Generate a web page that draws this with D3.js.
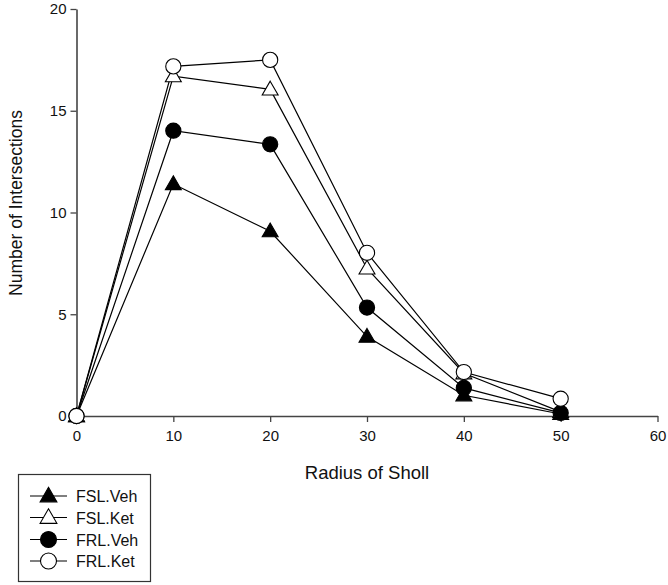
<!DOCTYPE html>
<html><head><meta charset="utf-8">
<script src="https://cdn.jsdelivr.net/npm/d3@7"></script>
<style>body{margin:0;background:#fff}text{font-family:Arial,"Liberation Sans",sans-serif;fill:#111}</style>
</head><body><svg id="c" width="668" height="585"></svg>
<script>
const radius = [0, 10, 20, 30, 40, 50];
const seriesNames = ["FSL.Veh", "FSL.Ket", "FRL.Veh", "FRL.Ket"];
const fslVeh = [0, 11.4, 9.08, 3.9, 1.02, 0.1];
const fslKet = [0, 16.7, 16.05, 7.25, 2.1, 0.2];
const frlVeh = [0, 14.02, 13.35, 5.33, 1.38, 0.15];
const frlKet = [0, 17.18, 17.5, 8.02, 2.16, 0.85];
const xTicks = [0, 10, 20, 30, 40, 50, 60];
const yTicks = [0, 5, 10, 15, 20];

const series = [
  {name: seriesNames[0], vals: fslVeh, shape: "tri", fill: "#000"},
  {name: seriesNames[1], vals: fslKet, shape: "tri", fill: "#fff"},
  {name: seriesNames[2], vals: frlVeh, shape: "circ", fill: "#000"},
  {name: seriesNames[3], vals: frlKet, shape: "circ", fill: "#fff"}
];

const svg = d3.select("#c");
const x = d3.scaleLinear().domain([0, 60]).range([76.5, 657.5]);
const y = d3.scaleLinear().domain([0, 20]).range([416, 9]);
const axisCol = "#444";

const gx = svg.append("g").attr("transform", "translate(0,416)")
  .call(d3.axisBottom(x).tickValues(xTicks).tickSize(6).tickSizeOuter(0).tickPadding(8));
const gy = svg.append("g").attr("transform", "translate(76.5,0)")
  .call(d3.axisLeft(y).tickValues(yTicks).tickSize(6).tickSizeOuter(0).tickPadding(4));
[gx, gy].forEach(g => {
  g.select(".domain").attr("stroke", axisCol).attr("stroke-width", 1.6);
  g.selectAll(".tick line").attr("stroke", axisCol).attr("stroke-width", 1.3);
  g.selectAll(".tick text").style("font-size", "15px").attr("fill", "#111");
});

svg.append("text").attr("x", 367).attr("y", 479).attr("text-anchor", "middle")
  .style("font-size", "18.5px").text("Radius of Sholl");
svg.append("text").attr("transform", "translate(22,203) rotate(-90)").attr("text-anchor", "middle")
  .style("font-size", "17.5px").text("Number of Intersections");

const triPath = d3.symbol().type(d3.symbolTriangle).size(110);
function drawMarker(g, s, cx, cy, r) {
  r = r || 7.6;
  if (s.shape === "tri") {
    g.append("path").attr("d", d3.symbol().type(d3.symbolTriangle).size(110 * (r / 7.6) ** 2)())
      .attr("transform", `translate(${cx},${cy + 1})`)
      .attr("fill", s.fill).attr("stroke", "#000").attr("stroke-width", 1.1);
  } else {
    g.append("circle").attr("cx", cx).attr("cy", cy).attr("r", r)
      .attr("fill", s.fill).attr("stroke", "#000").attr("stroke-width", 1.1);
  }
}

const line = d3.line().x((d, i) => x(radius[i])).y(d => y(d));
const plot = svg.append("g");
series.forEach(s => {
  plot.append("path").attr("d", line(s.vals)).attr("fill", "none")
    .attr("stroke", "#000").attr("stroke-width", 1.2);
});
series.forEach(s => {
  s.vals.forEach((v, i) => drawMarker(plot, s, x(radius[i]), y(v)));
});

const leg = svg.append("g");
leg.append("rect").attr("x", 18.5).attr("y", 474.5).attr("width", 132).attr("height", 107)
  .attr("fill", "#fff").attr("stroke", "#333").attr("stroke-width", 1.2);
const legY = [496, 517.5, 539.5, 561];
series.forEach((s, i) => {
  leg.append("line").attr("x1", 30).attr("x2", 67).attr("y1", legY[i]).attr("y2", legY[i])
    .attr("stroke", "#000").attr("stroke-width", 1.2);
  drawMarker(leg, s, 48.5, legY[i], 8);
  leg.append("text").attr("x", 76).attr("y", legY[i] + 6).style("font-size", "16px").text(s.name);
});
</script></body></html>
